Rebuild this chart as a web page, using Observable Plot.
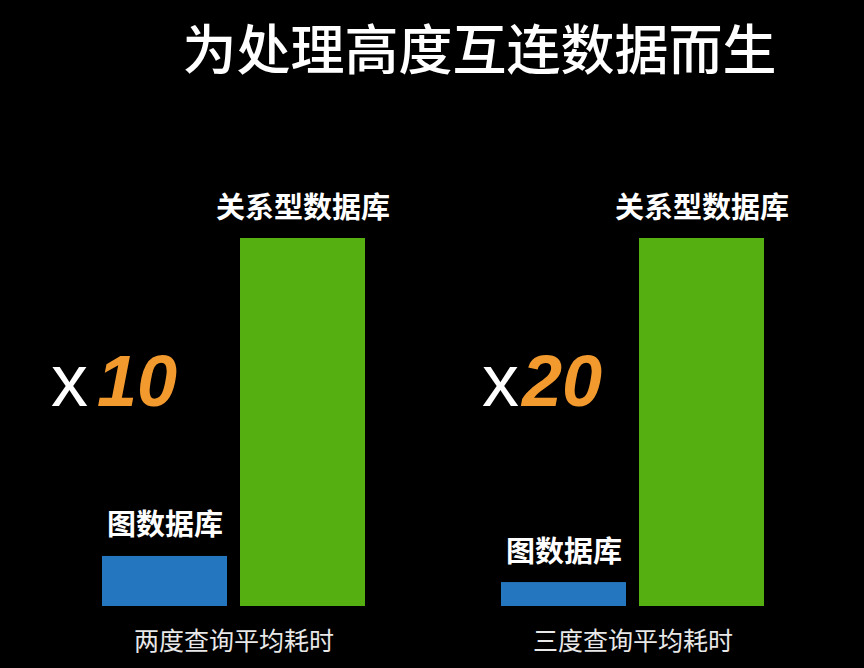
<!DOCTYPE html>
<html>
<head>
<meta charset="utf-8">
<script src="https://cdn.jsdelivr.net/npm/d3@7"></script>
<script src="https://cdn.jsdelivr.net/npm/@observablehq/plot@0.6"></script>
<style>
  html, body { margin: 0; padding: 0; background: #000; }
  body { width: 864px; height: 668px; overflow: hidden; }
  #title {
    height: 100px; box-sizing: border-box;
    padding-top: 17px; padding-left: 95px;
    text-align: center; color: #fff;
    font-family: "Noto Sans CJK SC", sans-serif; font-size: 54px; line-height: 60px; font-weight: 500;
  }
</style>
</head>
<body>
<div id="title">为处理高度互连数据而生</div>
<div id="chart"></div>
<script>
// Data
const groups = ["两度查询平均耗时", "三度查询平均耗时"];
const dbs = ["图数据库", "关系型数据库"];
const graphValues = [13.6, 6.5];       // relative height of graph database bar
const relationalValues = [100, 100];   // relative height of relational database bar
const multipliers = ["10", "20"];
const colors = ["#2477BF", "#56AF10"];

const data = groups.flatMap((g, i) => [
  {group: g, db: dbs[0], value: graphValues[i]},
  {group: g, db: dbs[1], value: relationalValues[i]}
]);
const ann = groups.map((g, i) => ({group: g, at: dbs[0], mult: multipliers[i]}));

// per-annotation horizontal offsets (style only)
const xOffsets = [-77, -45];
const numOffsets = [-68, -42];

const chart = Plot.plot({
  width: 864,
  height: 568,
  marginTop: 138,
  marginBottom: 62,
  marginLeft: 101,
  marginRight: 98,
  style: {background: "#000", color: "#fff", fontFamily: "'Noto Sans CJK SC', sans-serif"},
  fx: {domain: groups, paddingInner: 0.3346, paddingOuter: 0, label: null, axis: null},
  x: {domain: dbs, paddingInner: 0.093, paddingOuter: 0, axis: null},
  y: {domain: [0, 100], axis: null},
  color: {domain: dbs, range: colors},
  marks: [
    Plot.barY(data, {fx: "group", x: "db", y: "value", fill: "db"}),
    Plot.text(data, {fx: "group", x: "db", y: "value", text: "db", lineAnchor: "bottom", dy: -21,
      fontSize: 29, fontWeight: "bold", fill: "#fff"}),
    ...ann.map((a, i) => Plot.text([a], {fx: "group", x: "at", text: () => "x", frameAnchor: "middle", lineAnchor: "bottom",
      textAnchor: "end", dx: xOffsets[i], dy: -17, fontSize: 74, fill: "#fff",
      fontFamily: "'Liberation Sans', Arial, sans-serif"})),
    ...ann.map((a, i) => Plot.text([a], {fx: "group", x: "at", text: "mult", frameAnchor: "middle", lineAnchor: "bottom",
      textAnchor: "start", dx: numOffsets[i], dy: -17, fontSize: 72, fontWeight: "bold", fontStyle: "italic", fill: "#F39A2F",
      fontFamily: "'Liberation Sans', Arial, sans-serif"})),
    Plot.axisFx({anchor: "bottom", tickSize: 0, tickPadding: 26, fontSize: 25, fill: "#e8e8e8", label: null})
  ]
});
document.getElementById("chart").appendChild(chart);
</script>
</body>
</html>
